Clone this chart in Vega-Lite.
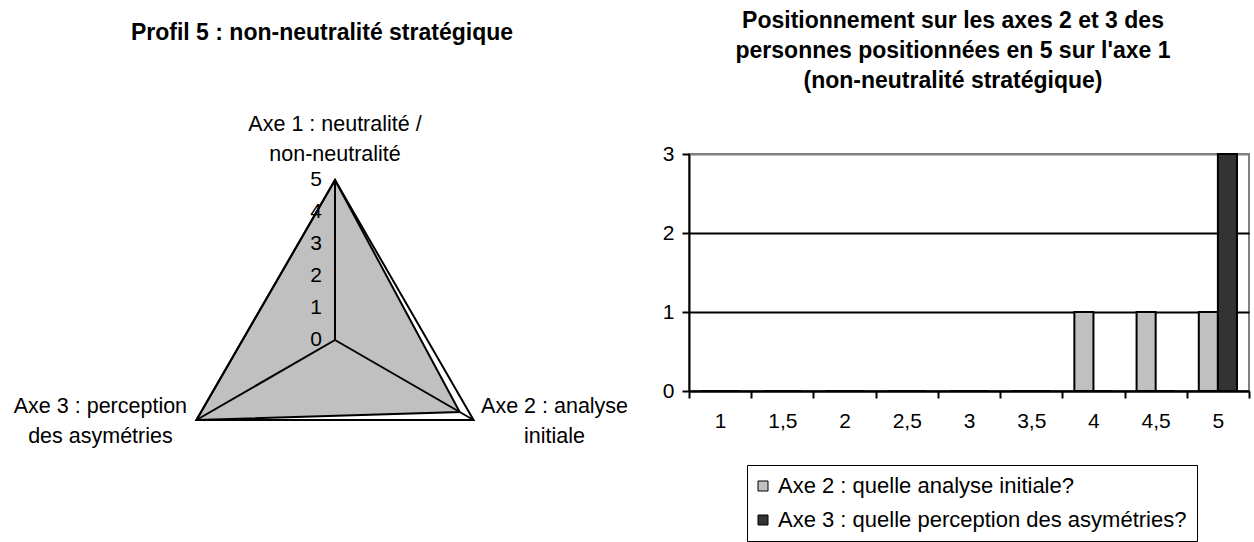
{
  "$schema": "https://vega.github.io/schema/vega-lite/v6.json",
  "padding": {"left": 0, "top": 9, "right": 0, "bottom": 0},
  "background": "white",
  "bounds": "flush",
  "spacing": 49,
  "datasets": {
    "radar": [
      {"i": 0, "axe": "Axe 1", "label": "Axe 1 : neutralité /\nnon-neutralité", "value": 5, "max": 5},
      {"i": 1, "axe": "Axe 2", "label": "Axe 2 : analyse\ninitiale", "value": 4.5, "max": 5},
      {"i": 2, "axe": "Axe 3", "label": "Axe 3 : perception\ndes asymétries", "value": 5, "max": 5}
    ],
    "ticks": [{"t": 0}, {"t": 1}, {"t": 2}, {"t": 3}, {"t": 4}, {"t": 5}],
    "bars": [
      {"pos": "1", "serie": "Axe 2 : quelle analyse initiale?", "n": 0},
      {"pos": "1", "serie": "Axe 3 : quelle perception des asymétries?", "n": 0},
      {"pos": "1,5", "serie": "Axe 2 : quelle analyse initiale?", "n": 0},
      {"pos": "1,5", "serie": "Axe 3 : quelle perception des asymétries?", "n": 0},
      {"pos": "2", "serie": "Axe 2 : quelle analyse initiale?", "n": 0},
      {"pos": "2", "serie": "Axe 3 : quelle perception des asymétries?", "n": 0},
      {"pos": "2,5", "serie": "Axe 2 : quelle analyse initiale?", "n": 0},
      {"pos": "2,5", "serie": "Axe 3 : quelle perception des asymétries?", "n": 0},
      {"pos": "3", "serie": "Axe 2 : quelle analyse initiale?", "n": 0},
      {"pos": "3", "serie": "Axe 3 : quelle perception des asymétries?", "n": 0},
      {"pos": "3,5", "serie": "Axe 2 : quelle analyse initiale?", "n": 0},
      {"pos": "3,5", "serie": "Axe 3 : quelle perception des asymétries?", "n": 0},
      {"pos": "4", "serie": "Axe 2 : quelle analyse initiale?", "n": 1},
      {"pos": "4", "serie": "Axe 3 : quelle perception des asymétries?", "n": 0},
      {"pos": "4,5", "serie": "Axe 2 : quelle analyse initiale?", "n": 1},
      {"pos": "4,5", "serie": "Axe 3 : quelle perception des asymétries?", "n": 0},
      {"pos": "5", "serie": "Axe 2 : quelle analyse initiale?", "n": 1},
      {"pos": "5", "serie": "Axe 3 : quelle perception des asymétries?", "n": 3}
    ]
  },
  "config": {
    "font": "Liberation Sans",
    "view": {"stroke": null},
    "title": {"font": "Liberation Sans", "fontSize": 23, "fontWeight": "bold", "color": "black", "lineHeight": 30},
    "axis": {"labelFont": "Liberation Sans", "labelFontSize": 21, "labelColor": "black"},
    "legend": {"labelFont": "Liberation Sans", "labelFontSize": 22, "labelColor": "black"}
  },
  "hconcat": [
    {
      "width": 640,
      "height": 300,
      "title": {"text": "Profil 5 : non-neutralité stratégique", "offset": 69, "anchor": "middle", "dx": 2},
      "data": {"name": "radar"},
      "transform": [
        {"calculate": "2 * PI * datum.i / 3", "as": "ang"},
        {"calculate": "datum.value * sin(datum.ang)", "as": "vx"},
        {"calculate": "datum.value * cos(datum.ang)", "as": "vy"},
        {"calculate": "datum.max * sin(datum.ang)", "as": "fx"},
        {"calculate": "datum.max * cos(datum.ang)", "as": "fy"}
      ],
      "layer": [
        {
          "mark": {"type": "line", "interpolate": "linear-closed", "fill": "#C0C0C0", "stroke": "black", "strokeWidth": 2},
          "encoding": {
            "x": {"field": "vx", "type": "quantitative", "scale": {"domain": [-10.46875, 9.53125], "nice": false, "zero": false}, "axis": null},
            "y": {"field": "vy", "type": "quantitative", "scale": {"domain": [-3.5625, 5.8125], "nice": false, "zero": false}, "axis": null},
            "order": {"field": "i"}
          }
        },
        {
          "mark": {"type": "rule", "color": "black", "strokeWidth": 2},
          "encoding": {
            "x": {"field": "fx", "type": "quantitative"},
            "y": {"field": "fy", "type": "quantitative"},
            "x2": {"datum": 0},
            "y2": {"datum": 0}
          }
        },
        {
          "mark": {"type": "line", "interpolate": "linear-closed", "stroke": "black", "strokeWidth": 2},
          "encoding": {
            "x": {"field": "fx", "type": "quantitative"},
            "y": {"field": "fy", "type": "quantitative"},
            "order": {"field": "i"}
          }
        },
        {
          "transform": [{"filter": "datum.i == 0"}],
          "mark": {"type": "text", "lineBreak": "\n", "lineHeight": 30, "align": "center", "baseline": "middle", "fontSize": 21.5, "dy": -55, "color": "black"},
          "encoding": {
            "x": {"field": "fx", "type": "quantitative"},
            "y": {"field": "fy", "type": "quantitative"},
            "text": {"field": "label"}
          }
        },
        {
          "transform": [{"filter": "datum.i == 1"}],
          "mark": {"type": "text", "lineBreak": "\n", "lineHeight": 30, "align": "center", "baseline": "middle", "fontSize": 21.5, "dx": 81, "dy": -13, "color": "black"},
          "encoding": {
            "x": {"field": "fx", "type": "quantitative"},
            "y": {"field": "fy", "type": "quantitative"},
            "text": {"field": "label"}
          }
        },
        {
          "transform": [{"filter": "datum.i == 2"}],
          "mark": {"type": "text", "lineBreak": "\n", "lineHeight": 30, "align": "center", "baseline": "middle", "fontSize": 21.5, "dx": -96, "dy": -13, "color": "black"},
          "encoding": {
            "x": {"field": "fx", "type": "quantitative"},
            "y": {"field": "fy", "type": "quantitative"},
            "text": {"field": "label"}
          }
        },
        {
          "data": {"name": "ticks"},
          "mark": {"type": "text", "align": "right", "baseline": "middle", "fontSize": 21, "dx": -13, "color": "black"},
          "encoding": {
            "x": {"datum": 0, "type": "quantitative"},
            "y": {"field": "t", "type": "quantitative"},
            "text": {"field": "t", "type": "quantitative"}
          }
        }
      ]
    },
    {
      "width": 560,
      "height": 237,
      "view": {"stroke": "#808080", "strokeWidth": 2},
      "title": {"text": ["Positionnement sur les axes 2 et 3 des", "personnes positionnées en 5 sur l'axe 1", "(non-neutralité stratégique)"], "offset": 50, "anchor": "middle", "dx": -16},
      "data": {"name": "bars"},
      "mark": {"type": "bar", "stroke": "black", "strokeWidth": 2},
      "encoding": {
        "x": {
          "field": "pos", "type": "nominal", "sort": null,
          "scale": {"paddingInner": 0, "paddingOuter": 0},
          "axis": {"title": null, "labelAngle": 0, "tickBand": "extent", "tickSize": 7, "tickColor": "black", "tickWidth": 2, "domainColor": "black", "domainWidth": 2, "labelPadding": 12}
        },
        "xOffset": {"field": "serie", "type": "nominal", "scale": {"paddingInner": 0, "paddingOuter": 0.63}},
        "y": {
          "field": "n", "type": "quantitative",
          "scale": {"domain": [0, 3], "nice": false},
          "axis": {"title": null, "values": [0, 1, 2, 3], "tickSize": 7, "tickColor": "black", "tickWidth": 2, "domainColor": "black", "domainWidth": 2, "labelPadding": 8, "grid": true, "gridWidth": 2, "gridColor": {"condition": {"test": "datum.value == 3", "value": "#808080"}, "value": "black"}}
        },
        "fill": {
          "field": "serie", "type": "nominal",
          "scale": {"domain": ["Axe 2 : quelle analyse initiale?", "Axe 3 : quelle perception des asymétries?"], "range": ["#C0C0C0", "#333333"]},
          "legend": {"title": null, "orient": "none", "legendX": 747, "legendY": 311, "direction": "vertical", "strokeColor": "black", "fillColor": "white", "padding": 10, "rowPadding": 12, "symbolType": "square", "symbolSize": 100, "symbolOffset": -5, "symbolStrokeColor": "black", "symbolStrokeWidth": 1, "symbolOpacity": 1, "labelOffset": 4, "labelFontSize": 22, "labelLimit": 600}
        }
      }
    }
  ]
}
